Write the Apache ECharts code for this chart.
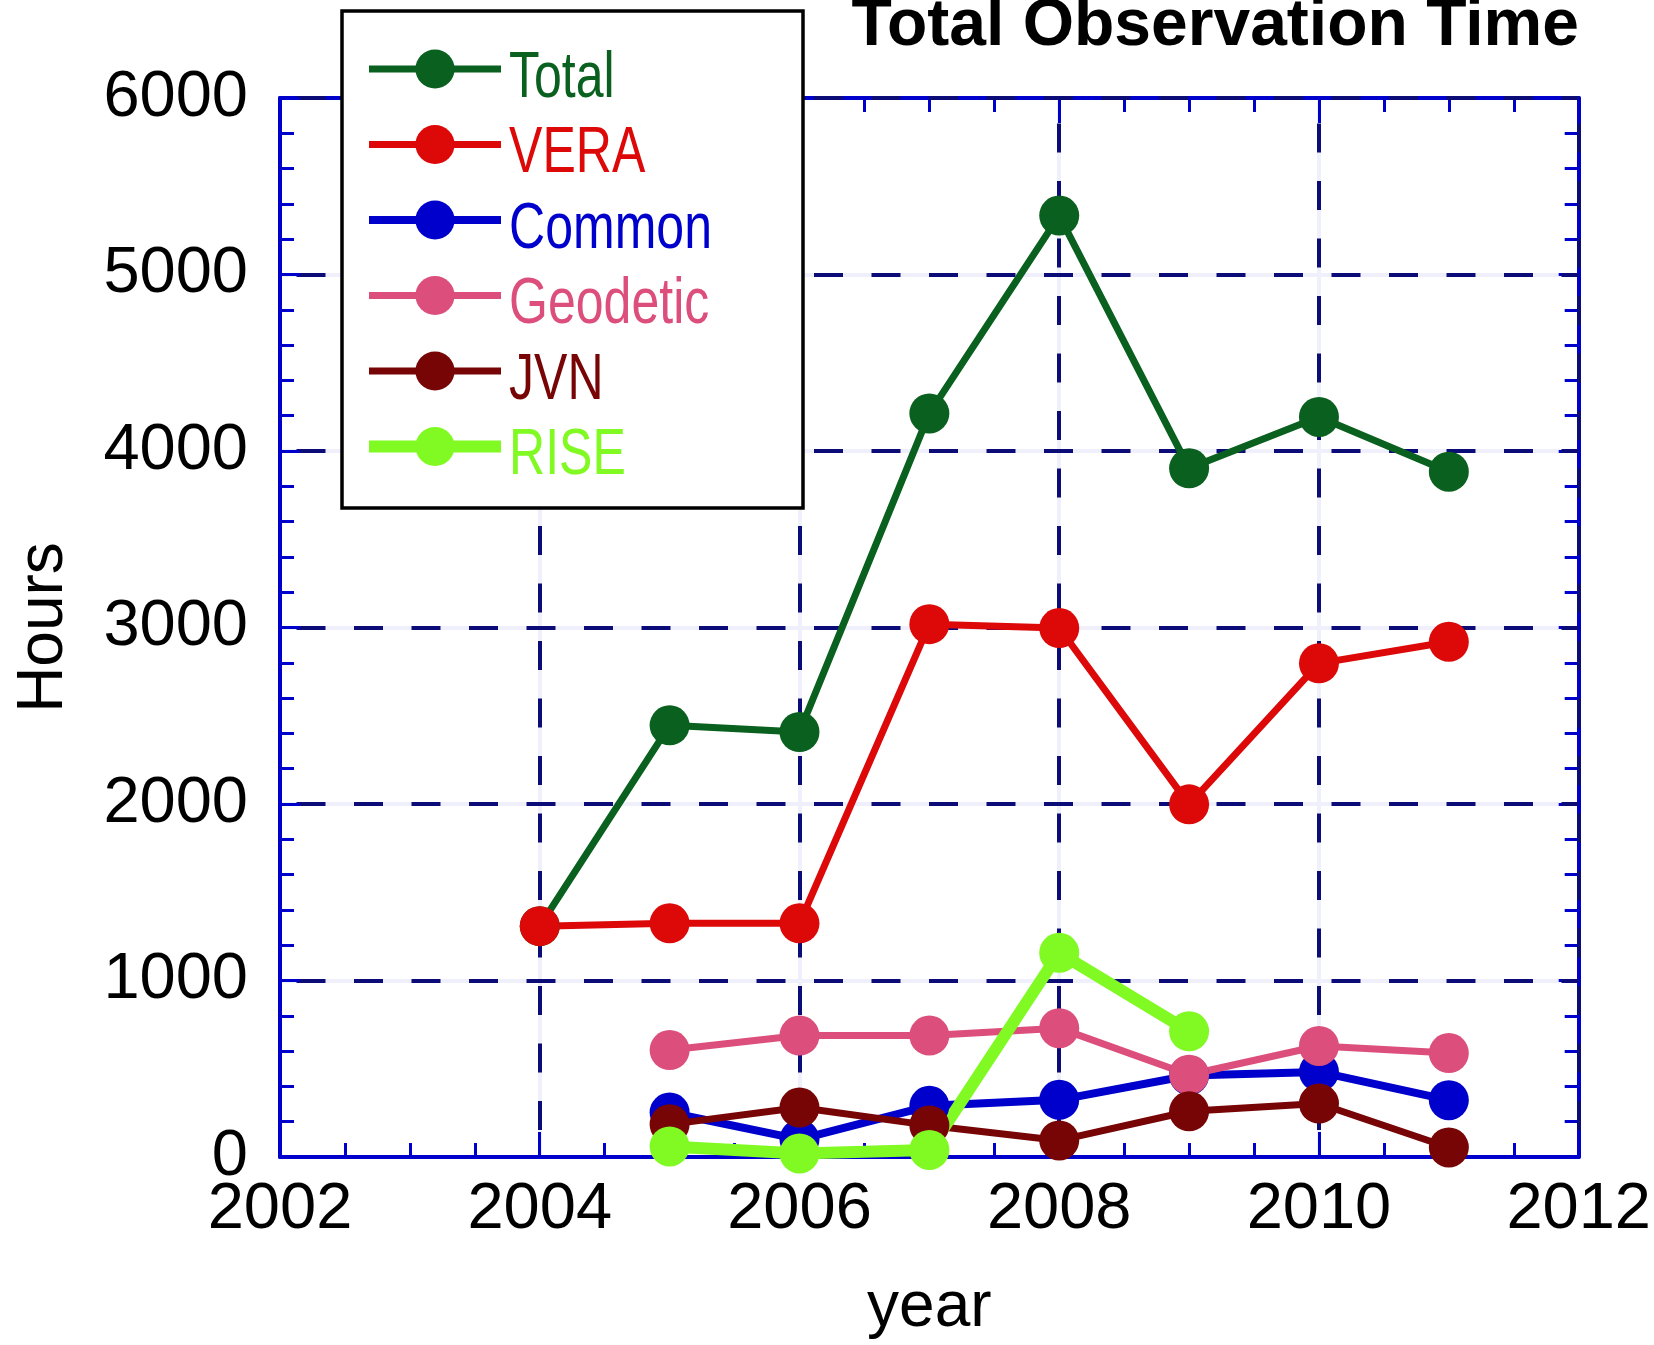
<!DOCTYPE html>
<html><head><meta charset="utf-8">
<script src="https://cdn.jsdelivr.net/npm/echarts@6/dist/echarts.min.js"></script>
<style>html,body{margin:0;padding:0;background:#fff}#c{width:1654px;height:1345px}</style>
</head><body><div id="c"></div>
<script>
// ---- data ----
const years    = [2004, 2005, 2006, 2007, 2008, 2009, 2010, 2011];
const total    = [1308, 2446, 2408, 4213, 5334, 3902, 4193, 3883];
const vera     = [1308, 1324, 1324, 3019, 2997, 1998, 2797, 2919];
const common   = [null, 252, 100, 290, 324, 462, 482, 322];
const geodetic = [null, 606, 688, 688, 730, 466, 629, 589];
const jvn      = [null, 185, 280, 179, 94, 259, 303, 54];
const rise     = [null, 60, 20, 40, 1157, 712, null, null];
const xTicks   = [2002, 2004, 2006, 2008, 2010, 2012];
const yTicks   = [0, 1000, 2000, 3000, 4000, 5000, 6000];
const seriesNames = ['Total', 'VERA', 'Common', 'Geodetic', 'JVN', 'RISE'];

// ---- styles ----
const styles = {
  Total:    {color: '#0a601e', width: 7},
  VERA:     {color: '#dd0808', width: 7},
  Common:   {color: '#0000cc', width: 8},
  Geodetic: {color: '#dc4f7c', width: 7},
  JVN:      {color: '#780505', width: 7},
  RISE:     {color: '#80fa22', width: 12}
};
const values = {Total: total, VERA: vera, Common: common, Geodetic: geodetic, JVN: jvn, RISE: rise};
const pairs = vals => years.map((y, i) => [y, vals[i]]).filter(p => p[1] != null);

const FRAME = '#0000cc';
const FONT = 'Liberation Sans, Arial, sans-serif';
const xMin = xTicks[0], xMax = xTicks[xTicks.length - 1], xInt = xTicks[1] - xTicks[0];
const yMin = yTicks[0], yMax = yTicks[yTicks.length - 1], yInt = yTicks[1] - yTicks[0];

// legend layout (pixel positions of legend rows)
const LEG_X = 363, LEG_TOP = 69, LEG_STEP = 75.5, LEG_TEXT_X = 509, ICON_H = 39.2;

function axisCommon(extra) {
  return Object.assign({
    type: 'value',
    axisLine: {show: true, onZero: false, lineStyle: {color: FRAME, width: 4}},
    axisTick: {show: true, inside: true, lineStyle: {color: FRAME, width: 3}},
    minorTick: {show: true, inside: true, length: 14, lineStyle: {color: FRAME, width: 3}},
    minorSplitLine: {show: false}
  }, extra);
}

const legendTexts = seriesNames.map((n, i) => ({
  type: 'text', z: 6,
  x: LEG_TEXT_X, y: LEG_TOP + i * LEG_STEP + 10,
  scaleX: 0.77, scaleY: 1,
  style: {
    text: n, fill: styles[n].color,
    font: '65px "Liberation Sans", Arial, sans-serif',
    textVerticalAlign: 'middle', verticalAlign: 'middle', align: 'left'
  }
}));

const chart = echarts.init(document.getElementById('c'), null, {renderer: 'canvas'});
chart.setOption({
  animation: false,
  backgroundColor: '#ffffff',
  title: {
    text: 'Total Observation Time',
    right: 75, top: 7, padding: 0,
    textStyle: {fontFamily: FONT, fontWeight: 'bold', fontSize: 66, lineHeight: 40, color: '#000'}
  },
  grid: {left: 280, top: 98, width: 1299, height: 1062, containLabel: false},
  xAxis: [
    axisCommon({
      position: 'bottom', min: xMin, max: xMax, interval: xInt, z: 1,
      axisTick: {show: true, inside: true, length: 25, lineStyle: {color: FRAME, width: 3}},
      minorTick: {show: true, splitNumber: 4, length: 14, lineStyle: {color: FRAME, width: 3}},
      axisLabel: {show: true, formatter: v => String(v), fontFamily: FONT, fontSize: 65, lineHeight: 65, color: '#000', margin: 21},
      splitLine: {show: true, lineStyle: {color: '#0c0c78', width: 4, type: [29, 28.5], dashOffset: 32}},
      name: 'year', nameLocation: 'middle', nameGap: 119,
      nameTextStyle: {fontFamily: FONT, fontSize: 64, lineHeight: 64, color: '#000'}
    }),
    axisCommon({
      position: 'top', min: xMin, max: xMax, interval: xInt, z: 0,
      axisTick: {show: true, inside: true, length: 25, lineStyle: {color: FRAME, width: 3}},
      minorTick: {show: true, splitNumber: 4, length: 14, lineStyle: {color: FRAME, width: 3}},
      axisLabel: {show: false},
      splitLine: {show: true, lineStyle: {color: '#f0f0fc', width: 4, type: 'solid'}}
    })
  ],
  yAxis: [
    axisCommon({
      position: 'left', min: yMin, max: yMax, interval: yInt, z: 1,
      axisTick: {show: true, inside: true, length: 20, lineStyle: {color: FRAME, width: 3}},
      minorTick: {show: true, splitNumber: 5, length: 14, lineStyle: {color: FRAME, width: 3}},
      axisLabel: {show: true, formatter: v => String(v), fontFamily: FONT, fontSize: 65, lineHeight: 65, color: '#000', margin: 32, padding: [0, 0, 10, 0]},
      splitLine: {show: true, lineStyle: {color: '#0c0c78', width: 4, type: [29, 28.5], dashOffset: 41}},
      name: 'Hours', nameLocation: 'middle', nameGap: 204, nameRotate: 90,
      nameTextStyle: {fontFamily: FONT, fontSize: 64, lineHeight: 64, color: '#000'}
    }),
    axisCommon({
      position: 'right', min: yMin, max: yMax, interval: yInt, z: 0,
      axisTick: {show: true, inside: true, length: 20, lineStyle: {color: FRAME, width: 3}},
      minorTick: {show: true, splitNumber: 5, length: 14, lineStyle: {color: FRAME, width: 3}},
      axisLabel: {show: false},
      splitLine: {show: true, lineStyle: {color: '#f0f0fc', width: 4, type: 'solid'}}
    })
  ],
  graphic: [{
    type: 'rect', z: 3,
    shape: {x: 342, y: 11, width: 461, height: 497},
    style: {fill: '#ffffff', stroke: '#000000', lineWidth: 3.5}
  }].concat(legendTexts),
  legend: {
    orient: 'vertical', left: LEG_X, top: LEG_TOP - ICON_H / 2, padding: 0,
    itemWidth: 132, itemHeight: 49, itemGap: LEG_STEP - ICON_H, z: 5,
    selectedMode: false,
    formatter: () => '',
    data: seriesNames.map(n => ({
      name: n,
      lineStyle: {color: styles[n].color, width: styles[n].width},
      itemStyle: {color: styles[n].color}
    })),
    textStyle: {fontSize: 10, lineHeight: 10}
  },
  series: seriesNames.map(n => ({
    type: 'line', name: n,
    data: pairs(values[n]),
    xAxisIndex: 0, yAxisIndex: 0,
    symbol: 'circle', symbolSize: 40, showSymbol: true,
    lineStyle: {color: styles[n].color, width: styles[n].width},
    itemStyle: {color: styles[n].color},
    emphasis: {disabled: true},
    z: 2
  }))
});
</script></body></html>
